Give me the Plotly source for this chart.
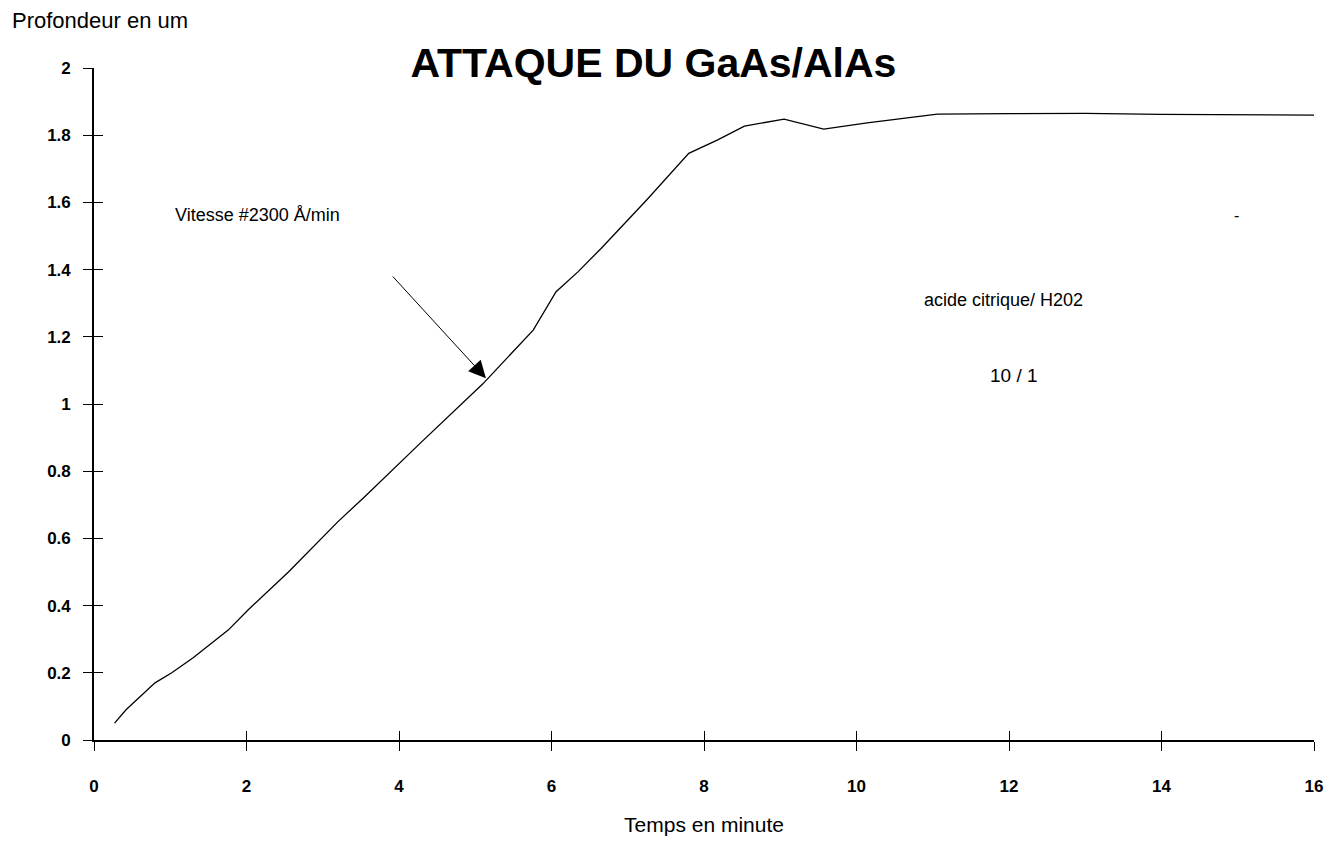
import plotly.graph_objects as go

# Data
time_min = [0.27, 0.42, 0.8, 1.02, 1.3, 1.76, 2.02, 2.55, 3.2, 3.55, 4.3, 5.1,
            5.76, 6.06, 6.35, 6.65, 7.26, 7.8, 8.18, 8.53, 9.05, 9.57, 10.14,
            10.58, 11.06, 12.0, 13.0, 14.0, 15.0, 16.0]
depth_um = [0.05, 0.09, 0.17, 0.20, 0.245, 0.327, 0.387, 0.50, 0.65, 0.724,
            0.888, 1.06, 1.22, 1.334, 1.394, 1.463, 1.61, 1.746, 1.786, 1.827,
            1.848, 1.818, 1.837, 1.85, 1.863, 1.864, 1.865, 1.862, 1.861, 1.86]

x_ticks = [0, 2, 4, 6, 8, 10, 12, 14, 16]
y_ticks = [0, 0.2, 0.4, 0.6, 0.8, 1.0, 1.2, 1.4, 1.6, 1.8, 2.0]
y_tick_text = ["0", "0.2", "0.4", "0.6", "0.8", "1", "1.2", "1.4", "1.6", "1.8", "2"]

FONT = "Liberation Sans, Arial, Helvetica, sans-serif"

fig = go.Figure()
fig.add_trace(go.Scatter(x=time_min, y=depth_um, mode="lines",
                         line=dict(color="black", width=1.3),
                         showlegend=False, hoverinfo="skip"))
# invisible trace to create the overlay axes (inside half of crossing ticks)
fig.add_trace(go.Scatter(x=[None], y=[None], xaxis="x2", yaxis="y2",
                         showlegend=False, hoverinfo="skip"))

common_x = dict(range=[0, 16], tickvals=x_ticks, showgrid=False, zeroline=False)
common_y = dict(range=[0, 2], tickvals=y_ticks, showgrid=False, zeroline=False)

fig.update_layout(
    width=1339, height=846,
    paper_bgcolor="white", plot_bgcolor="white",
    margin=dict(l=94, r=25, t=68, b=106),
    font=dict(family=FONT, color="black"),
    title=dict(text="<b>ATTAQUE DU GaAs/AlAs</b>", x=0.488, xanchor="center",
               y=0.926, yanchor="middle", xref="container", yref="container",
               font=dict(size=41, family=FONT, color="black")),
    xaxis=dict(**common_x, showline=True, linecolor="black", linewidth=1.6,
               ticks="outside", ticklen=9, tickwidth=1.2, tickcolor="black",
               ticktext=[str(v) for v in x_ticks],
               tickfont=dict(size=17, family=FONT, color="black", weight="bold"),
               ticklabelstandoff=21,
               title=dict(text="Temps en minute", standoff=22,
                          font=dict(size=21, family=FONT, color="black"))),
    yaxis=dict(**common_y, showline=True, linecolor="black", linewidth=1.6,
               ticks="outside", ticklen=9, tickwidth=1.2, tickcolor="black",
               ticktext=y_tick_text,
               tickfont=dict(size=17, family=FONT, color="black", weight="bold"),
               ticklabelstandoff=9),
    xaxis2=dict(**common_x, overlaying="x", anchor="y2", side="bottom",
                ticks="inside", ticklen=9, tickwidth=1.2, tickcolor="black",
                showticklabels=False, showline=False),
    yaxis2=dict(**common_y, overlaying="y", anchor="x2", side="left",
                ticks="inside", ticklen=9, tickwidth=1.2, tickcolor="black",
                showticklabels=False, showline=False),
)

fig.add_annotation(text="Profondeur en um", xref="paper", yref="paper",
                   x=-0.069, y=1.0 + 48 / 672, xanchor="left", yanchor="middle",
                   showarrow=False, font=dict(size=22, family=FONT, color="black"))

fig.add_annotation(text="Vitesse #2300 Å/min", x=1.04, y=1.5625, xref="x", yref="y",
                   xanchor="left", yanchor="middle", showarrow=False,
                   font=dict(size=18, family=FONT, color="black"))

fig.add_annotation(text="", x=5.14, y=1.077, ax=3.90, ay=1.384,
                   xref="x", yref="y", axref="x", ayref="y",
                   showarrow=True, arrowhead=2, arrowsize=3.4, arrowwidth=1,
                   arrowcolor="black")

fig.add_annotation(text="acide citrique/ H202", x=10.86, y=1.31, xref="x", yref="y",
                   xanchor="left", yanchor="middle", showarrow=False,
                   font=dict(size=18, family=FONT, color="black"))
fig.add_annotation(text="10 / 1", x=12.06, y=1.086, xref="x", yref="y",
                   xanchor="center", yanchor="middle", showarrow=False,
                   font=dict(size=19, family=FONT, color="black"))
fig.add_annotation(text="-", x=14.99, y=1.56, xref="x", yref="y",
                   xanchor="center", yanchor="middle", showarrow=False,
                   font=dict(size=16, family=FONT, color="black"))

fig.write_html("out.html")
